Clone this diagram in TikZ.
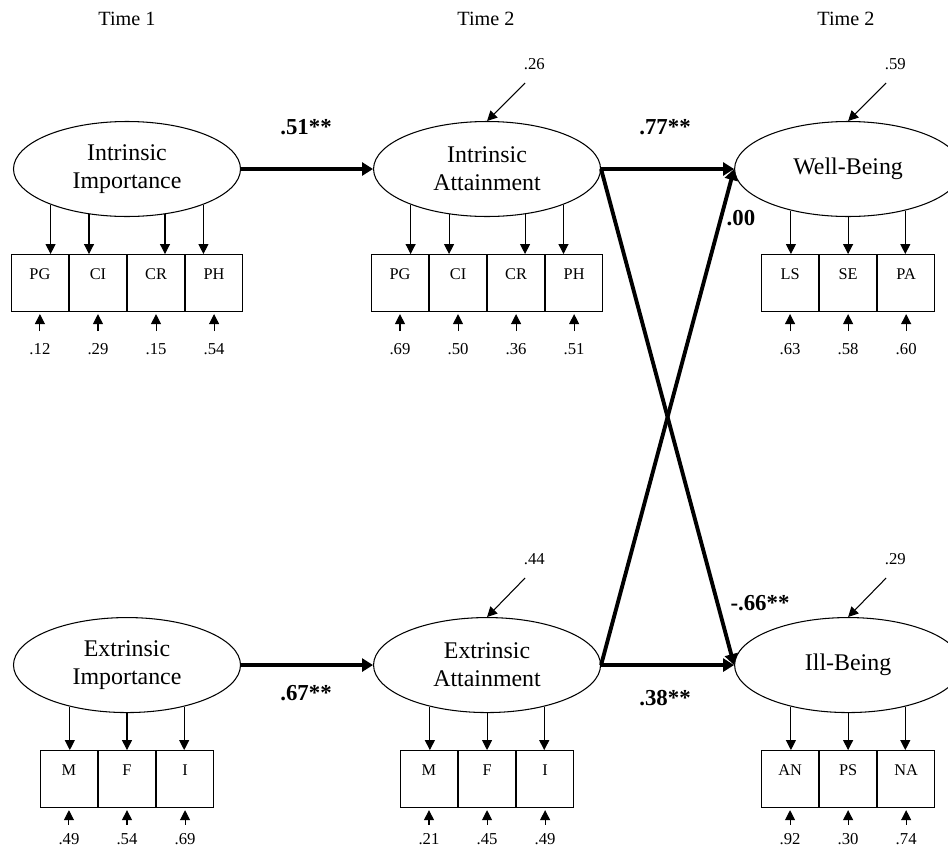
\documentclass[tikz,border=0pt]{standalone}
\usepackage{fontspec}
\setmainfont{Liberation Serif}
\usetikzlibrary{positioning,shapes.geometric,arrows.meta}

\begin{document}
\begin{tikzpicture}[latent/.style = {draw, ellipse, line width=0.6pt, minimum width=4.54cm, minimum height=1.9cm, inner sep=0pt, align=center, font=\fontsize{13.6}{15.9}\selectfont},
        ind/.style = {draw, rectangle, line width=0.6pt, minimum width=1.14cm, minimum height=1.14cm, inner sep=0pt, text height=0.49cm, text depth=0.65cm, font=\fontsize{9.3}{11}\selectfont},
        err/.style = {inner sep=7pt, font=\fontsize{9.5}{11}\selectfont},
        errb/.style = {err, inner sep=5pt},
        dist/.style = {inner sep=0pt, font=\fontsize{9.5}{11}\selectfont},
        coef/.style = {font=\fontsize{13}{15}\selectfont\bfseries},
        wave/.style = {font=\fontsize{11.5}{13}\selectfont},
        load/.style = {-{Triangle[length=0.2cm, width=0.2cm]}, line width=0.6pt},
        struct/.style = {-{Triangle[length=0.22cm, width=0.26cm]}, line width=2.2pt},
        node distance={2.64cm}]
        \useasboundingbox (0,0) rectangle (18.96,-16.94);

        % time labels
        \node[wave] (t1) at (2.54,-0.38) {Time 1};
        \node[wave] (t2) at (9.72,-0.38) {Time 2};
        \node[wave] (t3) at (16.92,-0.38) {Time 2};

        % latent variables
        \node[latent] (ii) at (2.54,-3.38) {Intrinsic\\Importance};
        \node[latent] (ia) [right=2.64cm of ii] {Intrinsic\\Attainment};
        \node[latent] (wb) [right=2.66cm of ia] {Well-Being};
        \node[latent] (ei) [below=8cm of ii] {Extrinsic\\Importance};
        \node[latent] (ea) [below=8cm of ia] {Extrinsic\\Attainment};
        \node[latent] (ib) [below=8cm of wb] {Ill-Being};

        % indicators
        \node[ind] (ii2) [below left=0.74cm and 0cm of ii.south] {CI};
        \node[ind] (ii1) [left=0cm of ii2] {PG};
        \node[ind] (ii3) [right=0cm of ii2] {CR};
        \node[ind] (ii4) [right=0cm of ii3] {PH};
        \node[ind] (ia2) [below left=0.74cm and 0cm of ia.south] {CI};
        \node[ind] (ia1) [left=0cm of ia2] {PG};
        \node[ind] (ia3) [right=0cm of ia2] {CR};
        \node[ind] (ia4) [right=0cm of ia3] {PH};
        \node[ind] (wb2) [below=0.74cm of wb] {SE};
        \node[ind] (wb1) [left=0cm of wb2] {LS};
        \node[ind] (wb3) [right=0cm of wb2] {PA};
        \node[ind] (ei2) [below=0.74cm of ei] {F};
        \node[ind] (ei1) [left=0cm of ei2] {M};
        \node[ind] (ei3) [right=0cm of ei2] {I};
        \node[ind] (ea2) [below=0.74cm of ea] {F};
        \node[ind] (ea1) [left=0cm of ea2] {M};
        \node[ind] (ea3) [right=0cm of ea2] {I};
        \node[ind] (ib2) [below=0.74cm of ib] {PS};
        \node[ind] (ib1) [left=0cm of ib2] {AN};
        \node[ind] (ib3) [right=0cm of ib2] {NA};

        % loadings
        \draw[load] (ii.205) -- (ii.205 |- ii1.north);
        \draw[load] (ii.230) -- (ii.230 |- ii2.north);
        \draw[load] (ii.310) -- (ii.310 |- ii3.north);
        \draw[load] (ii.335) -- (ii.335 |- ii4.north);
        \draw[load] (ia.205) -- (ia.205 |- ia1.north);
        \draw[load] (ia.230) -- (ia.230 |- ia2.north);
        \draw[load] (ia.310) -- (ia.310 |- ia3.north);
        \draw[load] (ia.335) -- (ia.335 |- ia4.north);
        \draw[load] (wb.216) -- (wb.216 |- wb1.north);
        \draw[load] (wb) -- (wb2);
        \draw[load] (wb.324) -- (wb.324 |- wb3.north);
        \draw[load] (ei.216) -- (ei.216 |- ei1.north);
        \draw[load] (ei) -- (ei2);
        \draw[load] (ei.324) -- (ei.324 |- ei3.north);
        \draw[load] (ea.216) -- (ea.216 |- ea1.north);
        \draw[load] (ea) -- (ea2);
        \draw[load] (ea.324) -- (ea.324 |- ea3.north);
        \draw[load] (ib.216) -- (ib.216 |- ib1.north);
        \draw[load] (ib) -- (ib2);
        \draw[load] (ib.324) -- (ib.324 |- ib3.north);

        % residuals of indicators
        \node[err] (eii1) [below=0.38cm of ii1] {.12};
        \node[err] (eii2) [below=0.38cm of ii2] {.29};
        \node[err] (eii3) [below=0.38cm of ii3] {.15};
        \node[err] (eii4) [below=0.38cm of ii4] {.54};
        \node[err] (eia1) [below=0.38cm of ia1] {.69};
        \node[err] (eia2) [below=0.38cm of ia2] {.50};
        \node[err] (eia3) [below=0.38cm of ia3] {.36};
        \node[err] (eia4) [below=0.38cm of ia4] {.51};
        \node[err] (ewb1) [below=0.38cm of wb1] {.63};
        \node[err] (ewb2) [below=0.38cm of wb2] {.58};
        \node[err] (ewb3) [below=0.38cm of wb3] {.60};
        \node[errb] (eei1) [below=0.33cm of ei1] {.49};
        \node[errb] (eei2) [below=0.33cm of ei2] {.54};
        \node[errb] (eei3) [below=0.33cm of ei3] {.69};
        \node[errb] (eea1) [below=0.33cm of ea1] {.21};
        \node[errb] (eea2) [below=0.33cm of ea2] {.45};
        \node[errb] (eea3) [below=0.33cm of ea3] {.49};
        \node[errb] (eib1) [below=0.33cm of ib1] {.92};
        \node[errb] (eib2) [below=0.33cm of ib2] {.30};
        \node[errb] (eib3) [below=0.33cm of ib3] {.74};
        \draw[load, shorten >=0.04cm] (eii1) -- (ii1);
        \draw[load, shorten >=0.04cm] (eii2) -- (ii2);
        \draw[load, shorten >=0.04cm] (eii3) -- (ii3);
        \draw[load, shorten >=0.04cm] (eii4) -- (ii4);
        \draw[load, shorten >=0.04cm] (eia1) -- (ia1);
        \draw[load, shorten >=0.04cm] (eia2) -- (ia2);
        \draw[load, shorten >=0.04cm] (eia3) -- (ia3);
        \draw[load, shorten >=0.04cm] (eia4) -- (ia4);
        \draw[load, shorten >=0.04cm] (ewb1) -- (wb1);
        \draw[load, shorten >=0.04cm] (ewb2) -- (wb2);
        \draw[load, shorten >=0.04cm] (ewb3) -- (wb3);
        \draw[load, shorten >=0.04cm] (eei1) -- (ei1);
        \draw[load, shorten >=0.04cm] (eei2) -- (ei2);
        \draw[load, shorten >=0.04cm] (eei3) -- (ei3);
        \draw[load, shorten >=0.04cm] (eea1) -- (ea1);
        \draw[load, shorten >=0.04cm] (eea2) -- (ea2);
        \draw[load, shorten >=0.04cm] (eea3) -- (ea3);
        \draw[load, shorten >=0.04cm] (eib1) -- (ib1);
        \draw[load, shorten >=0.04cm] (eib2) -- (ib2);
        \draw[load, shorten >=0.04cm] (eib3) -- (ib3);

        % disturbances
        \coordinate[above right=0.76cm and 0.76cm of ia.north] (zia);
        \coordinate[above right=0.76cm and 0.76cm of wb.north] (zwb);
        \coordinate[above right=0.78cm and 0.76cm of ea.north] (zea);
        \coordinate[above right=0.78cm and 0.76cm of ib.north] (zib);
        \node[dist] (dia) [above right=0.26cm and -0.03cm of zia] {.26};
        \node[dist] (dwb) [above right=0.26cm and -0.03cm of zwb] {.59};
        \node[dist] (dea) [above right=0.26cm and -0.03cm of zea] {.44};
        \node[dist] (dib) [above right=0.26cm and -0.03cm of zib] {.29};
        \draw[load] (zia) -- (ia.north);
        \draw[load] (zwb) -- (wb.north);
        \draw[load] (zea) -- (ea.north);
        \draw[load] (zib) -- (ib.north);

        % structural paths
        \draw[struct] (ii) -- (ia);
        \draw[struct] (ia) -- (wb);
        \draw[struct] (ei) -- (ea);
        \draw[struct] (ea) -- (ib);
        \draw[struct] (ia.east) -- (ib.west);
        \draw[struct] (ea.east) -- (wb.west);
        \node[coef] (c1) at (6.12,-2.54) {.51**};
        \node[coef] (c2) at (13.30,-2.54) {.77**};
        \node[coef] (c3) at (14.82,-4.36) {.00};
        \node[coef] (c4) at (15.20,-12.06) {-.66**};
        \node[coef] (c5) at (6.12,-13.86) {.67**};
        \node[coef] (c6) at (13.30,-13.96) {.38**};
    \end{tikzpicture}
\end{document}
